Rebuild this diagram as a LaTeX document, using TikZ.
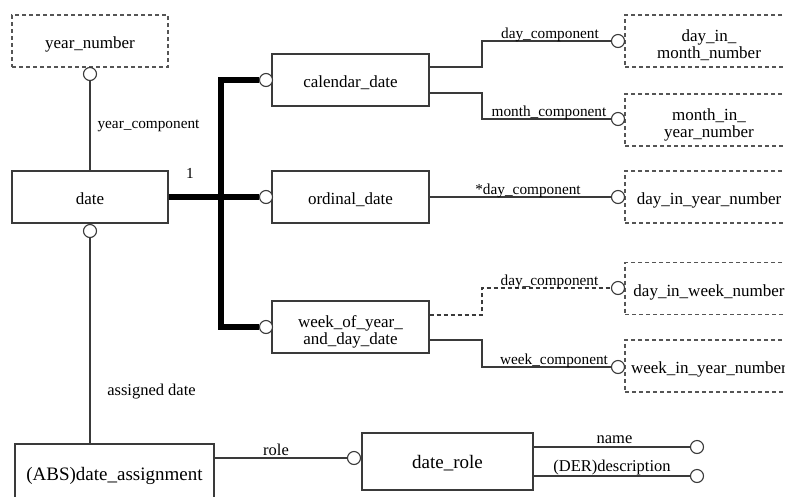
\documentclass[tikz,border=0pt]{standalone}
\usepackage{fontspec}
\setmainfont{Liberation Serif}
\definecolor{ln}{HTML}{3A3A3A}
\definecolor{dl}{HTML}{555555}
\newcommand\sS[1]{\rule[-4pt]{0pt}{#1}}
\newcommand\hiS{\rule{0pt}{22pt}}
\newcommand\loS{\rule[-4pt]{0pt}{4pt}}
\tikzset{
  ent/.style={draw=ln, line width=1.1pt, rectangle, minimum height=52pt, inner sep=0pt, align=center, font=\fontsize{17}{17.2}\selectfont},
  dent/.style={ent, draw=dl, dash pattern=on 4pt off 3pt},
  bent/.style={ent, font=\fontsize{19}{19}\selectfont},
  ring/.style={draw=ln, line width=1.1pt, circle, fill=white, minimum size=13pt, inner sep=0pt},
  conn/.style={draw=ln, line width=1.1pt},
  dconn/.style={conn, dash pattern=on 4pt off 3pt},
  bus/.style={draw=black, line width=6pt, line join=miter},
  lab/.style={anchor=base, inner sep=0pt, font=\fontsize{15.3}{15.3}\selectfont},
  blab/.style={lab, font=\fontsize{16.5}{16.5}\selectfont}
}
\begin{document}
\begin{tikzpicture}[x=1pt,y=-1pt]
\useasboundingbox (0,0) rectangle (785,496);
\begin{scope}
\clip (0,0) rectangle (785,496);
% entities
\node[dent, minimum width=156pt] (yearnum) at (90,41) {\sS{23.5pt}year\_number};
\node[ent, minimum width=156pt] (date) at (90,197) {\sS{23.5pt}date};
\node[ent, minimum width=157pt] (cal) at (350.5,80) {\sS{23.5pt}calendar\_date};
\node[ent, minimum width=157pt] (ord) at (350.5,197) {\sS{23.5pt}ordinal\_date};
\node[ent, minimum width=157pt] (week) at (350.5,327) {\hiS week\_of\_year\_\\and\_day\_date\loS};
\node[dent, minimum width=168pt] (dim) at (709,41) {\hiS day\_in\_\\month\_number\loS};
\node[dent, minimum width=168pt] (miy) at (709,120) {\hiS month\_in\_\\year\_number\loS};
\node[dent, minimum width=168pt] (diy) at (709,197) {\sS{23pt}day\_in\_year\_number};
\node[dent, minimum width=168pt] (diw) at (709,288.5) {\sS{23pt}day\_in\_week\_number};
\node[dent, minimum width=168pt] (wiy) at (709,366) {\sS{23pt}week\_in\_year\_number};
\node[bent, minimum width=199pt, minimum height=58pt] (assign) at (114.5,473) {\sS{24pt}(ABS)date\_assignment};
\node[bent, minimum width=171pt, minimum height=57pt] (drole) at (447.5,461.5) {\sS{21pt}date\_role};
% rings
\node[ring] (cyear) at (90,74) {};
\node[ring] (cdate) at (90,231) {};
\node[ring] (ccal) at (266,80) {};
\node[ring] (cord) at (266,197) {};
\node[ring] (cweek) at (266,327) {};
\node[ring] (cdim) at (618,41) {};
\node[ring] (cmiy) at (618,119) {};
\node[ring] (cdiy) at (618,197) {};
\node[ring] (cdiw) at (618,288) {};
\node[ring] (cwiy) at (618,367) {};
\node[ring] (crole) at (354,458) {};
\node[ring] (cname) at (697,447) {};
\node[ring] (cdesc) at (697,476) {};
% bus
\coordinate (bt) at (221,80);
\coordinate (bb) at (221,327);
\draw[bus] (ccal.west) -- (bt) -- (bb) -- (cweek.west);
\draw[bus] (date.east) -- (cord.west);
% connectors
\draw[conn] (cyear.south) -- (date.north);
\draw[conn] (cdate.south) -- (cdate.south |- assign.north);
\coordinate (k1) at (482,67);
\coordinate (k2) at (482,93);
\coordinate (k3) at (482,315);
\coordinate (k4) at (482,340);
\draw[conn] (cal.east |- k1) -- (k1) |- (cdim.west);
\draw[conn] (cal.east |- k2) -- (k2) |- (cmiy.west);
\draw[conn] (ord.east) -- (cdiy.west);
\draw[dconn] (week.east |- k3) -- (k3) |- (cdiw.west);
\draw[conn] (week.east |- k4) -- (k4) |- (cwiy.west);
\draw[conn] (assign.east |- crole) -- (crole.west);
\draw[conn] (drole.east |- cname) -- (cname.west);
\draw[conn] (drole.east |- cdesc) -- (cdesc.west);
% labels
\node[lab] (lyear) at (148.5,128) {year\_component};
\node[lab] (lone) at (190,178) {1};
\node[lab] (lday1) at (550,38.5) {day\_component};
\node[lab] (lmonth) at (549,116.5) {month\_component};
\node[lab] (lday2) at (528,194) {*day\_component};
\node[lab] (lday3) at (549.5,285) {day\_component};
\node[lab] (lweek) at (554,364) {week\_component};
\node[blab] (lassign) at (151.5,395) {assigned date};
\node[blab] (lrole) at (276,455) {role};
\node[blab] (lname) at (614.5,443) {name};
\node[blab] (ldesc) at (612,471) {(DER)description};
\end{scope}
\end{tikzpicture}
\end{document}
